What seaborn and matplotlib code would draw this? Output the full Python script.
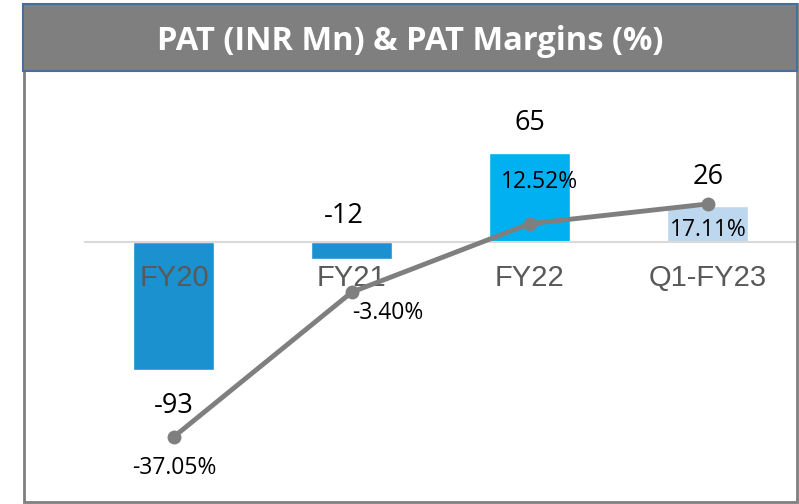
import matplotlib.pyplot as plt
import seaborn as sns
from matplotlib.patches import Rectangle

categories = ["FY20", "FY21", "FY22", "Q1-FY23"]
pat = [-93, -12, 65, 26]
margin = [-37.05, -3.40, 12.52, 17.11]
bar_colors = ["#1b91cf", "#1b91cf", "#00b0f0", "#bdd7ee"]

# label offsets in pixels (dx, dy), hand-tuned to match the reference
pat_offsets = [(0, -36), (-8, 43), (0, 30), (0, 29)]
margin_offsets = [(0, -31), (36, -21), (10, 42), (0, -26)]

sns.set_theme(style="white")
plt.rcParams["font.family"] = ["Open Sans", "DejaVu Sans"]

fig = plt.figure(figsize=(7.99, 5.04), dpi=100)

# outer frame and title bar
fig.patches.append(Rectangle((24 / 799, 2 / 504), 773 / 799, 498 / 504,
                             transform=fig.transFigure, facecolor="none",
                             edgecolor="#7f7f7f", lw=2, zorder=-1))
fig.patches.append(Rectangle((23 / 799, 433 / 504), 774 / 799, 67 / 504,
                             transform=fig.transFigure, facecolor="#7f7f7f",
                             edgecolor="#41719c", lw=1.5, zorder=-1))
fig.text(410 / 799, 462 / 504, "PAT (INR Mn) & PAT Margins (%)", color="white",
         fontsize=23.5, fontweight="bold", ha="center", va="center")

ax = fig.add_axes([85 / 799, 4 / 504, 710 / 799, 420 / 504])
ax.patch.set_visible(False)
sns.barplot(x=categories, y=pat, hue=categories, palette=bar_colors,
            width=0.455, legend=False, ax=ax, saturation=1)
ax.set_axisbelow(False)  # category labels sit on top of the bars
ax.set_ylim(-188.0, 118.1)
ax.set_xlim(-0.5, 3.49)
for s in ["top", "left", "right"]:
    ax.spines[s].set_visible(False)
ax.spines["bottom"].set_position(("data", 0))
ax.spines["bottom"].set_color("#d9d9d9")
ax.spines["bottom"].set_linewidth(1.5)
ax.set_yticks([])
ax.tick_params(axis="x", length=0, pad=16, labelsize=21, labelcolor="#595959")
for lbl in ax.get_xticklabels():
    lbl.set_fontfamily("Liberation Sans")
ax.set_xlabel("")
ax.set_ylabel("")

for i, (v, (dx, dy)) in enumerate(zip(pat, pat_offsets)):
    ax.annotate(f"{v}", xy=(i, v), xytext=(dx, dy), textcoords="offset pixels",
                ha="center", va="center", fontsize=19.5, color="black")

ax2 = ax.twinx()
sns.lineplot(x=list(range(len(categories))), y=margin, ax=ax2, color="#7f7f7f",
             lw=3.5, marker="o", markersize=10, markeredgewidth=0, sort=False)
ax2.set_ylim(-51.78, 45.96)
ax2.set_xlim(-0.5, 3.49)
for s in ax2.spines.values():
    s.set_visible(False)
ax2.set_yticks([])
ax2.set_ylabel("")

for i, (v, (dx, dy)) in enumerate(zip(margin, margin_offsets)):
    ax2.annotate(f"{v:.2f}%", xy=(i, v), xytext=(dx, dy), textcoords="offset pixels",
                 ha="center", va="center", fontsize=16.5, color="black")

fig.savefig("out.png", dpi=100)
